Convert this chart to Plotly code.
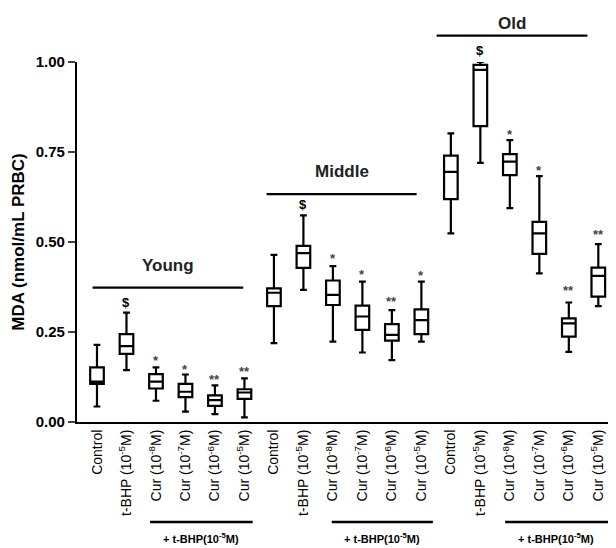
import plotly.graph_objects as go

# ---------------- data ----------------
tick_labels = [
    "Control", "t-BHP (10<sup>-5</sup>M)", "Cur (10<sup>-8</sup>M)", "Cur (10<sup>-7</sup>M)",
    "Cur (10<sup>-6</sup>M)", "Cur (10<sup>-5</sup>M)",
] * 3
groups = ["Young", "Middle", "Old"]

upper_fence = [0.214, 0.304, 0.152, 0.132, 0.102, 0.121,
               0.464, 0.574, 0.433, 0.390, 0.311, 0.390,
               0.802, 1.000, 0.783, 0.683, 0.332, 0.494]
q3 = [0.152, 0.244, 0.133, 0.106, 0.074, 0.091,
      0.371, 0.489, 0.393, 0.323, 0.272, 0.313,
      0.740, 0.992, 0.744, 0.556, 0.288, 0.429]
median = [0.112, 0.211, 0.112, 0.084, 0.061, 0.082,
          0.359, 0.469, 0.353, 0.293, 0.242, 0.283,
          0.695, 0.978, 0.723, 0.524, 0.274, 0.406]
q1 = [0.106, 0.189, 0.093, 0.069, 0.045, 0.064,
      0.322, 0.428, 0.325, 0.256, 0.226, 0.244,
      0.619, 0.822, 0.686, 0.467, 0.237, 0.348]
lower_fence = [0.043, 0.144, 0.059, 0.029, 0.022, 0.013,
               0.219, 0.367, 0.223, 0.193, 0.172, 0.223,
               0.524, 0.720, 0.594, 0.413, 0.195, 0.322]

sig_text = ["", "$", "*", "*", "**", "**",
            "", "$", "*", "*", "**", "*",
            "", "$", "*", "*", "**", "**"]
sig_y = [None, 0.331, 0.181, 0.158, 0.128, 0.152,
         None, 0.603, 0.464, 0.420, 0.345, 0.418,
         None, 1.033, 0.811, 0.709, 0.376, 0.533]

group_line_y = [0.373, 0.633, 1.073]
group_label_y = [0.436, 0.695, 1.107]
group_line_x0 = [-0.15, 5.75, 11.52]
group_line_x1 = [4.96, 10.84, 16.63]

treat_label = "+ t-BHP(10<sup>-5</sup>M)"
treat_x0 = [1.80, 7.96, 13.84]
treat_x1 = [5.28, 11.39, 17.6]

FONT = "Liberation Sans, Arial, sans-serif"

x_pos = list(range(len(tick_labels)))

fig = go.Figure()
fig.add_trace(go.Box(
    x=x_pos, q1=q1, median=median, q3=q3,
    lowerfence=lower_fence, upperfence=upper_fence,
    fillcolor="white", line=dict(color="black", width=2.2),
    whiskerwidth=0.5, boxpoints=False, showlegend=False, hoverinfo="skip",
))

annotations = []
shapes = []
for xi, (t, yv) in enumerate(zip(sig_text, sig_y)):
    if not t:
        continue
    if t == "$":
        annotations.append(dict(x=xi, y=yv, xref="x", yref="paper", text="<b>$</b>",
                                showarrow=False, yanchor="middle",
                                font=dict(size=13, color="black", family=FONT)))
    else:
        annotations.append(dict(x=xi, y=yv, xref="x", yref="paper", text="<b>" + t + "</b>",
                                showarrow=False, yanchor="middle", yshift=-4,
                                font=dict(size=13, color="#444", family=FONT)))

for g, gy, ly, gx0, gx1 in zip(groups, group_line_y, group_label_y, group_line_x0, group_line_x1):
    shapes.append(dict(type="line", xref="x", yref="paper", x0=gx0, x1=gx1, y0=gy, y1=gy,
                       line=dict(color="black", width=2.2)))
    annotations.append(dict(x=(gx0 + gx1) / 2, y=ly, xref="x", yref="paper", text="<b>" + g + "</b>",
                            showarrow=False, yanchor="middle",
                            font=dict(size=17, color="#222", family=FONT)))

for tx0, tx1 in zip(treat_x0, treat_x1):
    shapes.append(dict(type="line", xref="x", yref="paper", x0=tx0, x1=tx1, y0=-0.278, y1=-0.278,
                       line=dict(color="black", width=2.5)))
    annotations.append(dict(x=(tx0 + min(tx1, 17.3)) / 2, y=-0.321, xref="x", yref="paper",
                            text="<b>" + treat_label + "</b>", showarrow=False, yanchor="middle",
                            font=dict(size=11, color="black", family=FONT)))

# page body has an 8px default margin, so the figure is 8px smaller than the window
fig.update_layout(
    width=608, height=540,
    margin=dict(l=69, r=0, t=54, b=126),
    paper_bgcolor="white", plot_bgcolor="white",
    boxgap=0.34,
    font=dict(family=FONT, color="black"),
    shapes=shapes, annotations=annotations,
    xaxis=dict(range=[-0.678, 17.6], tickvals=x_pos, ticktext=tick_labels, tickangle=-90,
               showline=True, linecolor="black", linewidth=2.2, ticks="", showgrid=False,
               zeroline=False, tickfont=dict(size=14, color="black", family=FONT)),
    yaxis=dict(range=[0, 1.0], tickvals=[0, 0.25, 0.5, 0.75, 1.0],
               ticktext=["0.00", "0.25", "0.50", "0.75", "1.00"],
               showline=True, linecolor="black", linewidth=2.2, ticks="outside", ticklen=7,
               tickwidth=2, showgrid=False, zeroline=False,
               tickfont=dict(size=15, color="black", family=FONT, weight="bold"),
               title=dict(text="<b>MDA (nmol/mL PRBC)</b>", font=dict(size=17, family=FONT),
                          standoff=7)),
)

fig.write_html("out.html")
